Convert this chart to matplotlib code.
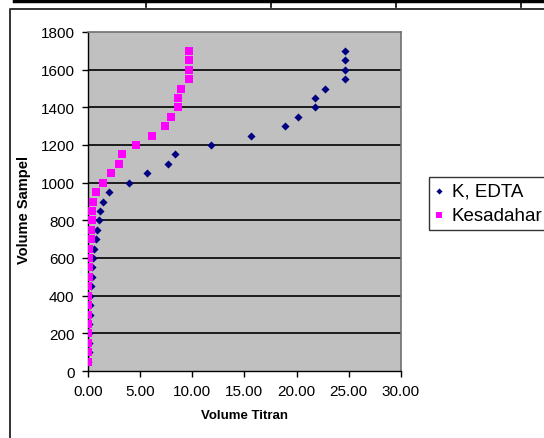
import matplotlib
matplotlib.use("Agg")
import matplotlib.pyplot as plt
from matplotlib.lines import Line2D

# Data
volume_sampel = [50, 100, 150, 200, 250, 300, 350, 400, 450, 500, 550, 600, 650, 700,
                 750, 800, 850, 900, 950, 1000, 1050, 1100, 1150, 1200, 1250, 1300,
                 1350, 1400, 1450, 1500, 1550, 1600, 1650, 1700]
k_edta = [0.05, 0.08, 0.10, 0.12, 0.15, 0.18, 0.20, 0.25, 0.35, 0.41, 0.45, 0.48, 0.57, 0.77,
          0.86, 1.05, 1.15, 1.43, 2.01, 3.93, 5.65, 7.66, 8.36, 11.8, 15.6, 18.9,
          20.1, 21.8, 21.8, 22.7, 24.65, 24.65, 24.65, 24.65]
kesadahan = [0.0, 0.0, 0.0, 0.0, 0.0, 0.0, 0.0, 0.06, 0.06, 0.12, 0.12, 0.12, 0.12, 0.32,
             0.32, 0.38, 0.38, 0.48, 0.80, 1.43, 2.23, 2.97, 3.29, 4.63, 6.16, 7.40,
             7.98, 8.62, 8.62, 8.94, 9.70, 9.70, 9.70, 9.70]
series_names = ["K, EDTA", "Kesadahar"]
x_ticks = [0, 5, 10, 15, 20, 25, 30]
y_ticks = [0, 200, 400, 600, 800, 1000, 1200, 1400, 1600, 1800]

plt.rcParams['font.family'] = ['Liberation Sans', 'DejaVu Sans']

W, H = 544, 439
fig = plt.figure(figsize=(W / 100, H / 100), dpi=100)
fig.patch.set_facecolor('white')

# decorations: table bar on top and chart frame
fig.add_artist(Line2D([15 / W, 1], [1 - 2 / H, 1 - 2 / H], color='black', lw=3.2))
for xv in [146, 271, 396, 521]:
    fig.add_artist(Line2D([xv / W, xv / W], [1 - 1 / H, 1 - 8 / H], color='black', lw=1.2))
fig.add_artist(Line2D([10 / W, 10 / W, 1.01], [-0.01, 1 - 9.5 / H, 1 - 9.5 / H],
                      color='#333333', lw=1.4))

left, right, top, bottom = 87.7, 401, 33, 372
ax = fig.add_axes([left / W, 1 - bottom / H, (right - left) / W, (bottom - top) / H])
ax.set_facecolor('#C0C0C0')

ax.scatter(k_edta, volume_sampel, marker='D', s=17, color='#000080', zorder=3,
           linewidths=0, label=series_names[0])
ax.scatter(kesadahan, volume_sampel, marker='s', s=27, color='#FF00FF', zorder=4,
           linewidths=0, label=series_names[1])

ax.set_xlim(0, 30)
ax.set_ylim(0, 1800)
ax.set_xticks(x_ticks)
ax.set_xticklabels([f"{v:.2f}" for v in x_ticks])
ax.set_yticks(y_ticks)
ax.set_yticklabels([str(v) for v in y_ticks])
for yv in y_ticks[1:-1]:
    ax.axhline(yv, color='black', lw=1.2, zorder=1)

ax.tick_params(axis='both', direction='out', length=4.5, width=1, labelsize=11,
               pad=5, colors='black')
for s in ['left', 'bottom']:
    ax.spines[s].set_color('black')
    ax.spines[s].set_linewidth(1)
for s in ['top', 'right']:
    ax.spines[s].set_color('#707070')
    ax.spines[s].set_linewidth(1.2)

ax.set_xlabel("Volume Titran", fontsize=9.5, fontweight='bold', labelpad=8)
fig.text(24 / W, 1 - 210 / H, "Volume Sampel", fontsize=10.5, fontweight='bold',
         rotation=90, ha='center', va='center')

leg = fig.legend(loc='upper left', bbox_to_anchor=(429 / W, 1 - 178 / H),
                 fontsize=13.5, frameon=True, fancybox=False, edgecolor='black',
                 handlelength=0.45, handletextpad=0.45, borderpad=0.3, labelspacing=0.4,
                 borderaxespad=0, markerscale=0.75)
leg.get_frame().set_linewidth(1)

fig.savefig("out.png", dpi=100)
